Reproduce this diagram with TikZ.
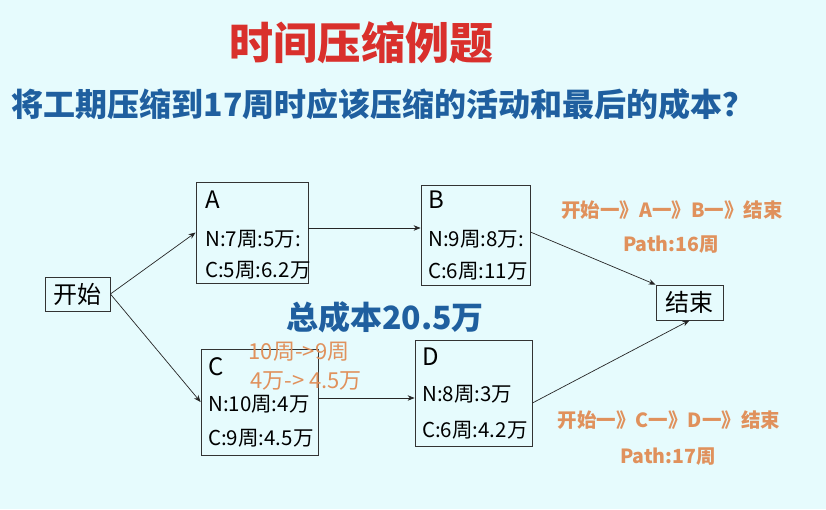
\documentclass[tikz,border=0pt]{standalone}
\usepackage{fontspec}
\setmainfont{Noto Sans CJK SC}
\usetikzlibrary{arrows.meta}
\definecolor{bgc}{HTML}{E6FBFD}
\definecolor{ttl}{HTML}{D9302C}
\definecolor{blu}{HTML}{1F5F9F}
\definecolor{org}{HTML}{E0915C}
\begin{document}
\begin{tikzpicture}[x=1pt,y=-1pt,
  box/.style={draw=black!80,line width=0.8pt,inner sep=0pt},
  lbl/.style={anchor=west,font=\fontsize{20.5}{20}\selectfont,inner sep=0pt},
  big/.style={anchor=west,font=\fontsize{24}{24}\selectfont,inner sep=0pt},
  conn/.style={draw=black!85,line width=0.7pt,-{Stealth[length=7pt,width=5.5pt]}},
  otx/.style={text=org,font=\bfseries\fontsize{19.5}{20}\selectfont,inner sep=0pt}]
\fill[bgc] (0,0) rectangle (826,509);
\useasboundingbox (0,0) rectangle (826,509);
\node[text=ttl,font=\bfseries\fontsize{44}{44}\selectfont] (t) at (361,43) {时间压缩例题};
\node[text=blu,font=\bfseries\fontsize{32}{32}\selectfont] (q) at (383,104) {将工期压缩到17周时应该压缩的活动和最后的成本？};
\node[text=blu,font=\bfseries\fontsize{32}{32}\selectfont] (tot) at (385,317) {总成本20.5万};
% boxes
\node[box,minimum width=112pt,minimum height=101pt] (A) at (252,232.5) {};
\node[box,minimum width=109pt,minimum height=100pt] (B) at (475.5,235) {};
\node[box,minimum width=117pt,minimum height=106pt] (C) at (259.5,402) {};
\node[box,minimum width=117pt,minimum height=106pt] (D) at (473.5,393) {};
\node[box,minimum width=65pt,minimum height=34pt,font=\fontsize{24}{24}\selectfont] (S) at (77.5,294) {开始};
\node[box,minimum width=67pt,minimum height=35pt,font=\fontsize{24}{24}\selectfont] (E) at (689.5,302.5) {结束};
% labels
\node[big] (Aa) at (205,200) {A};
\node[lbl] (A1) at (205,239) {N:7周:5万:};
\node[lbl] (A2) at (205,270) {C:5周:6.2万};
\node[big] (Bb) at (428,200) {B};
\node[lbl] (B1) at (428,239) {N:9周:8万:};
\node[lbl] (B2) at (428,271) {C:6周:11万};
\node[big] (Cc) at (208,367) {C};
\node[lbl] (C1) at (208,404) {N:10周:4万};
\node[lbl] (C2) at (208,438) {C:9周:4.5万};
\node[big] (Dd) at (422,357) {D};
\node[lbl] (D1) at (422,394) {N:8周:3万};
\node[lbl] (D2) at (422,430) {C:6周:4.2万};
% orange
\node[otx,font=\fontsize{22}{22}\selectfont] (o1) at (299,352) {10周->9周};
\node[otx,font=\fontsize{22}{22}\selectfont] (o2) at (306,381) {4万->\ 4.5万};
\node[otx] (p1) at (672,210) {开始一》A一》B一》结束};
\node[otx] (p2) at (671,245) {Path:16周};
\node[otx] (p3) at (669,420) {开始一》C一》D一》结束};
\node[otx] (p4) at (668,457) {Path:17周};
% connectors
\draw[conn] (S.east) -- (A.west);
\draw[conn] (S.east) -- (C.west);
\draw[conn] (A.east |- 0,228) -- (B.west |- 0,228);
\draw[conn] (B.east |- 0,232) -- (E.north west);
\draw[conn] (C.east |- 0,398) -- (D.west |- 0,398);
\draw[conn] (D.east |- 0,403) -- (E.south);
\end{tikzpicture}
\end{document}
